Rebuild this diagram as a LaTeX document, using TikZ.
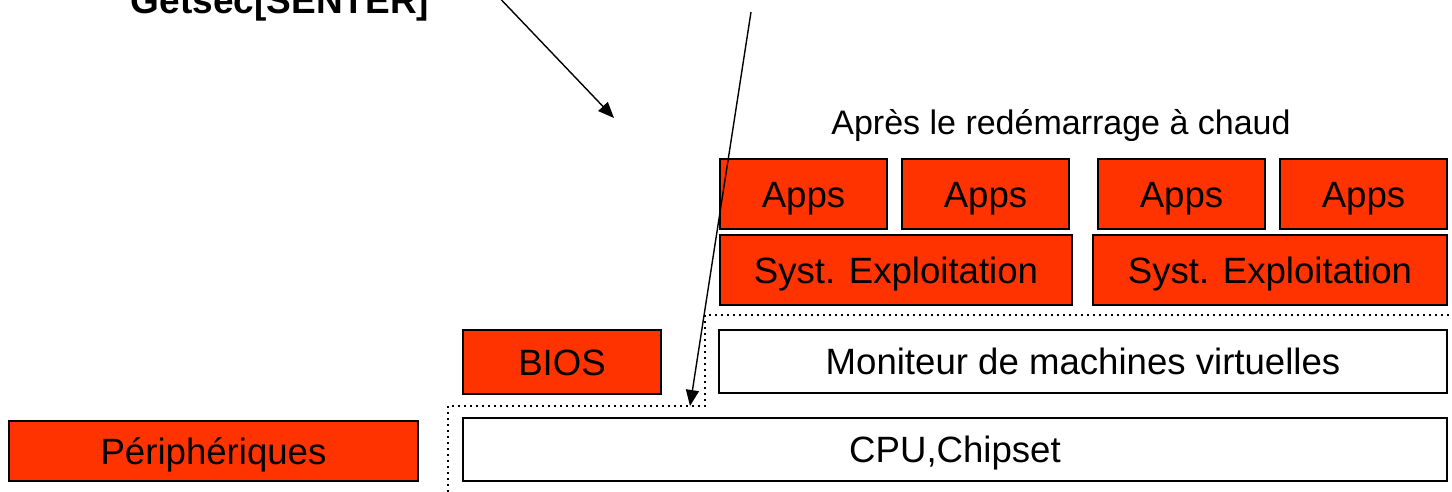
\documentclass[tikz,border=0pt]{standalone}
\usepackage{fontspec}
\setmainfont{Liberation Sans}
\usetikzlibrary{arrows.meta}
\definecolor{boxred}{RGB}{255,51,0}
\tikzset{
  blk/.style={draw=black, line width=1pt, inner sep=0pt, font=\fontsize{18.3}{22}\selectfont, text=black, text height=13pt, text depth=0pt},
  redbox/.style={blk, fill=boxred},
  whitebox/.style={blk, fill=white},
  arr/.style={line width=0.7pt, -{Triangle[length=8pt,width=6.5pt]}},
  dotline/.style={line width=1pt, dotted},
}
\newcommand{\bx}[7]{% style, name, x1, y1, x2, y2, text
  \node[#1, minimum width={(#5-#3)*0.5pt}, minimum height={(#6-#4)*0.5pt}] (#2) at ({(#3+#5)/2},{(#4+#6)/2}) {#7};}
\begin{document}
\begin{tikzpicture}[x=0.5pt,y=-0.5pt]
\useasboundingbox (0,0) rectangle (1452,492);
% dotted separator
\draw[dotline] (448,492) -- (448,406) -- (705,406) -- (705,315) -- (1452,315);
% boxes
\bx{redbox}{peri}{9}{421}{418}{481}{Périphériques}
\bx{whitebox}{cpu}{463}{418}{1447}{481}{CPU,Chipset}
\bx{redbox}{bios}{463}{330}{661}{394}{BIOS}
\bx{whitebox}{vmm}{719}{330}{1447}{393}{Moniteur de machines virtuelles}
\bx{redbox}{os1}{720}{235}{1072}{305}{Syst. Exploitation}
\bx{redbox}{os2}{1093}{235}{1447}{305}{Syst. Exploitation}
\bx{redbox}{app1}{720}{159}{887}{229}{Apps}
\bx{redbox}{app2}{902}{159}{1069}{229}{Apps}
\bx{redbox}{app3}{1098}{159}{1265}{229}{Apps}
\bx{redbox}{app4}{1280}{159}{1447}{229}{Apps}
% labels
\node[anchor=base, inner sep=0pt, font=\fontsize{17}{20}\selectfont] (apres) at (1061,135) {Après le redémarrage à chaud};
\node[anchor=base, inner sep=0pt, font=\fontsize{18.5}{22}\selectfont\bfseries] (getsec) at (280,14) {Getsec[SENTER]};
% arrows
\coordinate (a1s) at (492,-10);
\coordinate (a1e) at (614,118);
\coordinate (a2s) at (751,12);
\coordinate (a2e) at (690,406);
\draw[arr] (a1s) -- (a1e);
\draw[arr] (a2s) -- (a2e);
\end{tikzpicture}
\end{document}
